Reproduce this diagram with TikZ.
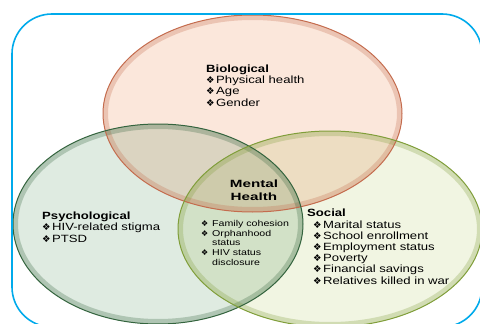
\documentclass[tikz,border=0pt]{standalone}
\usepackage{fontspec}
\setmainfont[FakeStretch=1.25]{Liberation Sans}
\newfontfamily\mhfont[FakeStretch=1.45]{Liberation Sans}
\newfontfamily\dingfont{DejaVu Sans}
\definecolor{biofill}{RGB}{251,231,219}
\definecolor{bioline}{RGB}{196,108,78}
\definecolor{psyfill}{RGB}{223,235,225}
\definecolor{psyline}{RGB}{52,100,62}
\definecolor{socfill}{RGB}{241,245,226}
\definecolor{socline}{RGB}{128,158,58}
\definecolor{framecol}{RGB}{0,170,235}
\newcommand{\itm}{\makebox[10pt][l]{\dingfont\fontsize{9.5}{9.5}\selectfont ❖}}
\newcommand{\subitm}{\makebox[11pt][l]{\dingfont\fontsize{8}{8}\selectfont ❖}}

\begin{document}
\begin{tikzpicture}[x=1pt, y=-1pt,
  ring/.style={line width=1pt},
  glow/.style={line width=10pt, opacity=0.28},
  frame/.style={draw=framecol, line width=1.6pt, rounded corners=40pt},
  % multi-line nodes sit on the baseline of their last line
  list/.style={font=\fontsize{10.5}{11.2}\selectfont, align=left,
               inner sep=0pt, anchor=base west},
  sublist/.style={font=\fontsize{8.5}{9.6}\selectfont, align=left,
                  inner sep=0pt, anchor=base west},
  mhlabel/.style={font=\mhfont\bfseries\fontsize{10.5}{13}\selectfont,
                  align=center, inner sep=0pt, anchor=base}
]
  \useasboundingbox (0,0) rectangle (480,324);
  \clip (0,0) rectangle (480,324);

  \coordinate (bio) at (252.5,113.5);
  \coordinate (psy) at (158,224);
  \coordinate (soc) at (330,229);

  % circle fills, multiplied so that overlaps get darker
  \begin{scope}[blend mode=multiply]
    \fill[biofill] (bio) ellipse [x radius=149.5, y radius=98.5];
    \fill[psyfill] (psy) ellipse [x radius=145, y radius=100];
    \fill[socfill] (soc) ellipse [x radius=152, y radius=98];
  \end{scope}

  % soft inner rims
  \begin{scope}
    \clip (bio) ellipse [x radius=149.5, y radius=98.5];
    \draw[glow, bioline] (bio) ellipse [x radius=149.5, y radius=98.5];
  \end{scope}
  \begin{scope}
    \clip (psy) ellipse [x radius=145, y radius=100];
    \draw[glow, psyline] (psy) ellipse [x radius=145, y radius=100];
  \end{scope}
  \begin{scope}
    \clip (soc) ellipse [x radius=152, y radius=98];
    \draw[glow, socline] (soc) ellipse [x radius=152, y radius=98];
  \end{scope}

  \draw[ring, bioline] (bio) ellipse [x radius=149.5, y radius=98.5];
  \draw[ring, psyline] (psy) ellipse [x radius=145, y radius=100];
  \draw[ring, socline] (soc) ellipse [x radius=152, y radius=98];

  \draw[frame] (12,14) rectangle (482,327);

  \node[list] (biotxt) at (206,106)
    {\textbf{Biological}\\\itm Physical health\\\itm Age\\\itm Gender};
  \node[list] (psytxt) at (42,242)
    {\textbf{Psychological}\\\itm HIV-related stigma\\\itm PTSD};
  \node[list] (soctxt) at (307,284)
    {\textbf{Social}\\
     \hspace*{6pt}\itm Marital status\\
     \hspace*{6pt}\itm School enrollment\\
     \hspace*{6pt}\itm Employment status\\
     \hspace*{6pt}\itm Poverty\\
     \hspace*{6pt}\itm Financial savings\\
     \hspace*{6pt}\itm Relatives killed in war};

  \node[mhlabel] (mh) at (254,200) {Mental\\Health};
  \node[sublist] (mhtxt) at (201,265)
    {\subitm Family cohesion\\\subitm Orphanhood\\\hspace*{11pt}status\\
     \subitm HIV status\\\hspace*{11pt}disclosure};
\end{tikzpicture}
\end{document}
